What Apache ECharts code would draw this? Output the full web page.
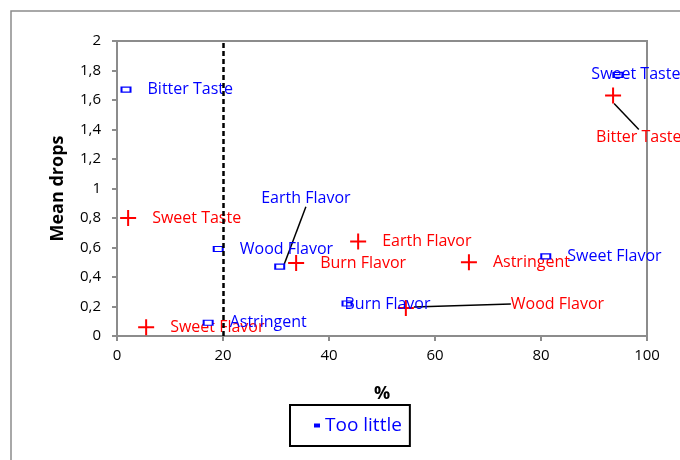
<!DOCTYPE html>
<html><head><meta charset="utf-8">
<script src="https://cdn.jsdelivr.net/npm/echarts@6/dist/echarts.min.js"></script>
<style>html,body{margin:0;padding:0;background:#fff}#c{width:680px;height:460px}</style>
</head><body><div id="c"></div>
<script>
// ---- data ----
const littleNames = ['Bitter Taste','Sweet Taste','Wood Flavor','Earth Flavor','Burn Flavor','Astringent','Sweet Flavor'];
const littleX = [1.7, 94.5, 19.1, 30.7, 43.4, 17.2, 80.9];
const littleY = [1.67, 1.77, 0.59, 0.47, 0.22, 0.09, 0.54];
const muchNames = ['Sweet Taste','Sweet Flavor','Burn Flavor','Earth Flavor','Astringent','Wood Flavor','Bitter Taste'];
const muchX = [2.1, 5.5, 33.8, 45.5, 66.4, 54.5, 93.6];
const muchY = [0.80, 0.06, 0.495, 0.64, 0.50, 0.19, 1.63];
const thresholdX = 20;
const seriesNames = ['Too little', 'Too much'];

// ---- label nudges (layout only) ----
const littleNudge = {1: [-48, 0, false], 3: [-40, -68, true], 4: [-24, 1, false]};
const muchNudge = {5: [81, -4, true], 6: [-41, 42, true]};

const FONT = 'Open Sans';
function build(names, xs, ys, nudge) {
  return names.map((n, i) => {
    const d = { name: n, value: [xs[i], ys[i]] };
    if (nudge[i] && nudge[i][2]) {
      d.labelLine = { show: true, lineStyle: { color: '#000', width: 1.5 } };
    }
    return d;
  });
}
function layoutFn(nudge) {
  return function (p) {
    const n = nudge[p.dataIndex];
    return n ? { dx: n[0], dy: n[1] } : {};
  };
}
const plusPath = 'path://M7,0 H9 V7 H16 V9 H9 V16 H7 V9 H0 V7 H7 Z';

const chart = echarts.init(document.getElementById('c'), null, {renderer: 'canvas'});
chart.setOption({
  animation: false,
  textStyle: { fontFamily: FONT },
  graphic: [{ type: 'rect', shape: { x: 11, y: 11, width: 720, height: 520 },
    style: { fill: 'none', stroke: '#8c8c8c', lineWidth: 1.5 }, silent: true, z: -1 }],
  grid: { left: 117, top: 41, right: 33, bottom: 124, show: true, borderColor: '#8c8c8c', borderWidth: 2, backgroundColor: 'transparent' },
  legend: {
    data: [{ name: seriesNames[0], icon: 'rect', itemStyle: { color: '#0000ff', borderWidth: 0 } }],
    left: 290, top: 405, width: 120,
    borderColor: '#000', borderWidth: 2, borderRadius: 0,
    padding: [11, 8, 11, 24], itemWidth: 6, itemHeight: 4, itemGap: 5,
    textStyle: { color: '#0000ff', fontSize: 19, fontFamily: FONT }
  },
  xAxis: {
    type: 'value', min: 0, max: 100, interval: 20,
    name: '%', nameLocation: 'middle', nameGap: 49,
    nameTextStyle: { fontSize: 18, fontWeight: 'bold', color: '#000', fontFamily: FONT },
    axisLine: { lineStyle: { color: '#8c8c8c', width: 2 } },
    axisTick: { show: true, length: 5, lineStyle: { color: '#8c8c8c', width: 2 } },
    axisLabel: { color: '#000', fontSize: 15, margin: 12, fontFamily: FONT },
    splitLine: { show: false }
  },
  yAxis: {
    type: 'value', min: 0, max: 2, interval: 0.2,
    name: 'Mean drops', nameLocation: 'middle', nameGap: 50, nameRotate: 90,
    nameTextStyle: { fontSize: 18, fontWeight: 'bold', color: '#000', fontFamily: FONT },
    axisLine: { show: true, lineStyle: { color: '#8c8c8c', width: 2 } },
    axisTick: { show: true, length: 5, lineStyle: { color: '#8c8c8c', width: 2 } },
    axisLabel: { color: '#000', fontSize: 15, margin: 16, fontFamily: FONT,
      formatter: v => String(Math.round(v * 10) / 10).replace('.', ',') },
    splitLine: { show: false }
  },
  series: [
    {
      name: seriesNames[1], type: 'scatter', symbol: plusPath, symbolSize: 16,
      itemStyle: { color: '#ff0000', opacity: 1 },
      label: { show: true, position: 'right', distance: 16, formatter: '{b}', color: '#ff0000', fontSize: 16, fontFamily: FONT },
      labelLayout: layoutFn(muchNudge),
      data: build(muchNames, muchX, muchY, muchNudge),
      z: 3
    },
    {
      name: seriesNames[0], type: 'scatter', symbol: 'rect', symbolSize: [9, 5],
      itemStyle: { color: '#fff', borderColor: '#0000ff', borderWidth: 1.5, opacity: 1 },
      label: { show: true, position: 'right', distance: 16, formatter: '{b}', color: '#0000ff', fontSize: 16, fontFamily: FONT },
      labelLayout: layoutFn(littleNudge),
      data: build(littleNames, littleX, littleY, littleNudge),
      markLine: {
        silent: true, symbol: ['none', 'none'], label: { show: false },
        lineStyle: { color: '#000', type: [5, 3], width: 2.5 },
        data: [{ xAxis: thresholdX }]
      },
      z: 4
    }
  ]
});
</script></body></html>
